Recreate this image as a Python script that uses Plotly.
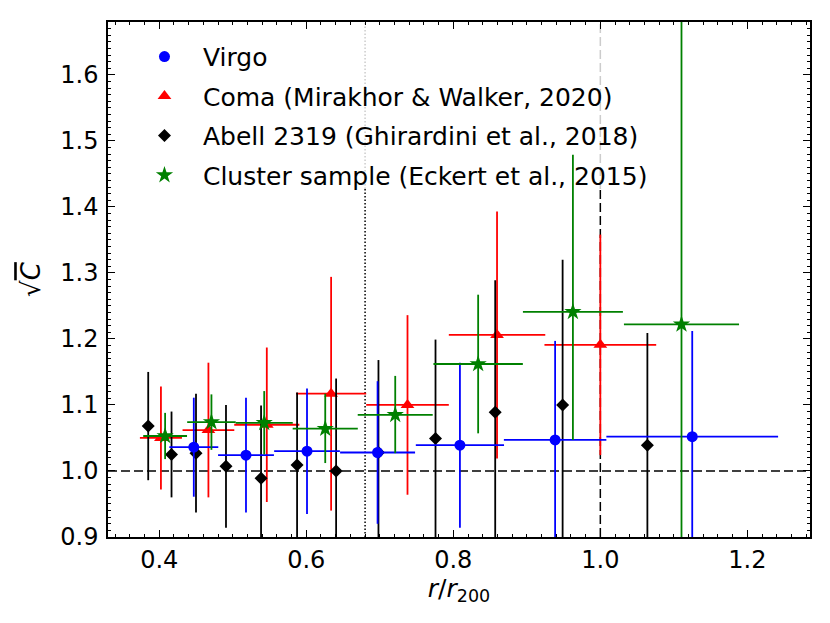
import plotly.graph_objects as go

# ---------------- data ----------------
virgo_x = [0.447, 0.518, 0.601, 0.697, 0.809, 0.9385, 1.125]
virgo_xerr = [0.0333, 0.038, 0.0447, 0.051, 0.060, 0.0697, 0.1168]
virgo_y = [1.036, 1.024, 1.030, 1.028, 1.039, 1.047, 1.052]
virgo_yerr = [0.075, 0.087, 0.095, 0.108, 0.125, 0.15, 0.16]

coma_x = [0.4023, 0.4669, 0.5463, 0.6338, 0.7377, 0.8595, 1.0]
coma_xerr = [0.0286, 0.0352, 0.0443, 0.0477, 0.0562, 0.0656, 0.076]
coma_y = [1.05, 1.062, 1.07, 1.117, 1.10, 1.206, 1.191]
coma_yerr = [0.078, 0.102, 0.117, 0.177, 0.136, 0.187, 0.167]

abell_x = [0.385, 0.4167, 0.450, 0.4908, 0.5385, 0.5875, 0.6406, 0.6982,
           0.7758, 0.857, 0.9487, 1.064]
abell_y = [1.068, 1.025, 1.027, 1.007, 0.989, 1.009, 1.0, 1.028,
           1.049, 1.089, 1.10, 1.039]
abell_yerr = [0.082, 0.065, 0.09, 0.093, 0.11, 0.11, 0.14, 0.14,
              0.15, 0.2, 0.22, 0.17]

cluster_x = [0.408, 0.471, 0.5428, 0.6258, 0.721, 0.8338, 0.9627, 1.1104]
cluster_xerr = [0.0298, 0.033, 0.0388, 0.0443, 0.051, 0.0608, 0.068, 0.0783]
cluster_y = [1.053, 1.074, 1.073, 1.064, 1.085, 1.162, 1.241, 1.222]
cluster_yerr_plus = [0.035, 0.042, 0.048, 0.053, 0.059, 0.105, 0.238, 0.50]
cluster_yerr_minus = [0.035, 0.042, 0.048, 0.052, 0.058, 0.105, 0.194, 0.50]

names = ["Virgo",
         "Coma (Mirakhor & Walker, 2020)",
         "Abell 2319 (Ghirardini et al., 2018)",
         "Cluster sample (Eckert et al., 2015)"]

ref_y = 1.0          # horizontal reference line
vline_dotted = 0.68  # vertical dotted line
vline_dashed = 1.0   # vertical dashed line
y_lim = [0.9, 1.68]
legend_fade_y = 1.427  # below legend box

FONT = "DejaVu Sans"

# x range like matplotlib autoscale with 5% margins
lo = min(min(a - b for a, b in zip(virgo_x, virgo_xerr)),
         min(a - b for a, b in zip(coma_x, coma_xerr)),
         min(a - b for a, b in zip(cluster_x, cluster_xerr)),
         min(abell_x))
hi = max(max(a + b for a, b in zip(virgo_x, virgo_xerr)),
         max(a + b for a, b in zip(coma_x, coma_xerr)),
         max(a + b for a, b in zip(cluster_x, cluster_xerr)),
         max(abell_x))
pad = 0.05 * (hi - lo)
x_lim = [lo - pad, hi + pad]

fig = go.Figure()
EW = 1.8


def eb(arr, minus=None, color="black"):
    d = dict(type="data", array=arr, visible=True, color=color,
             thickness=EW, width=0)
    if minus is not None:
        d["symmetric"] = False
        d["arrayminus"] = minus
    return d


fig.add_trace(go.Scatter(
    x=coma_x, y=coma_y, mode="markers", name=names[1], legendrank=2,
    legendgroup="b",
    marker=dict(symbol="triangle-up", size=12, color="#ff0000"),
    error_x=eb(coma_xerr, color="#ff0000"),
    error_y=eb(coma_yerr, color="#ff0000")))

fig.add_trace(go.Scatter(
    x=abell_x, y=abell_y, mode="markers", name=names[2], legendrank=3,
    legendgroup="c",
    marker=dict(symbol="diamond", size=10, color="#000000"),
    error_y=eb(abell_yerr, color="#000000")))

fig.add_trace(go.Scatter(
    x=virgo_x, y=virgo_y, mode="markers", name=names[0], legendrank=1,
    legendgroup="a",
    marker=dict(symbol="circle", size=11, color="#0000ff"),
    error_x=eb(virgo_xerr, color="#0000ff"),
    error_y=eb(virgo_yerr, color="#0000ff")))

fig.add_trace(go.Scatter(
    x=cluster_x, y=cluster_y, mode="markers", name=names[3], legendrank=4,
    legendgroup="d",
    marker=dict(symbol="star", size=13, color="#008000"),
    error_x=eb(cluster_xerr, color="#008000"),
    error_y=eb(cluster_yerr_plus, cluster_yerr_minus, color="#008000")))

DASH = "9px,4px"
DOT = "1.5px,2px"
shapes = [
    dict(type="line", xref="paper", yref="y", x0=0, x1=1, y0=ref_y, y1=ref_y,
         line=dict(color="black", width=1.5, dash=DASH), layer="below"),
    dict(type="line", xref="x", yref="y", x0=vline_dotted, x1=vline_dotted,
         y0=y_lim[0], y1=legend_fade_y,
         line=dict(color="black", width=1.5, dash=DOT), layer="below"),
    dict(type="line", xref="x", yref="y", x0=vline_dotted, x1=vline_dotted,
         y0=legend_fade_y, y1=y_lim[1],
         line=dict(color="#cccccc", width=1.5, dash=DOT), layer="below"),
    dict(type="line", xref="x", yref="y", x0=vline_dashed, x1=vline_dashed,
         y0=y_lim[0], y1=legend_fade_y,
         line=dict(color="black", width=1.5, dash=DASH), layer="below"),
    dict(type="line", xref="x", yref="y", x0=vline_dashed, x1=vline_dashed,
         y0=legend_fade_y, y1=y_lim[1],
         line=dict(color="#cccccc", width=1.5, dash=DASH), layer="below"),
]

axis_common = dict(
    showgrid=False, zeroline=False, showline=True, linecolor="black",
    linewidth=1.5, mirror="allticks", ticks="inside", ticklen=7,
    tickwidth=1, tickcolor="black", tickformat=".1f",
    tickfont=dict(family=FONT, size=24, color="black"),
)

fig.update_layout(
    width=822, height=615,
    margin=dict(l=100, r=20, t=12, b=86),
    paper_bgcolor="white", plot_bgcolor="white",
    font=dict(family=FONT, color="black"),
    shapes=shapes,
    showlegend=True,
    legend=dict(x=0.0256, y=0.977, xanchor="left", yanchor="top",
                bgcolor="rgba(0,0,0,0)", font=dict(family=FONT, size=25),
                tracegroupgap=4, itemwidth=67),
    xaxis=dict(range=x_lim, dtick=0.2, tick0=0.0,
               minor=dict(dtick=0.02, ticks="inside", ticklen=3.5,
                          tickcolor="black", tickwidth=1),
               title=dict(text="<i>r</i>/<i>r</i><sub>200</sub>",
                          font=dict(family=FONT, size=25), standoff=0),
               **axis_common),
    yaxis=dict(range=y_lim, dtick=0.1, tick0=0.0,
               minor=dict(dtick=0.01, ticks="inside", ticklen=3.5,
                          tickcolor="black", tickwidth=1),
               ticklabelstandoff=3,
               title=dict(text="√<span style='text-decoration:overline'><i>C</i></span>",
                          font=dict(family=FONT, size=26), standoff=12),
               **axis_common),
)

fig.write_html("out.html")
